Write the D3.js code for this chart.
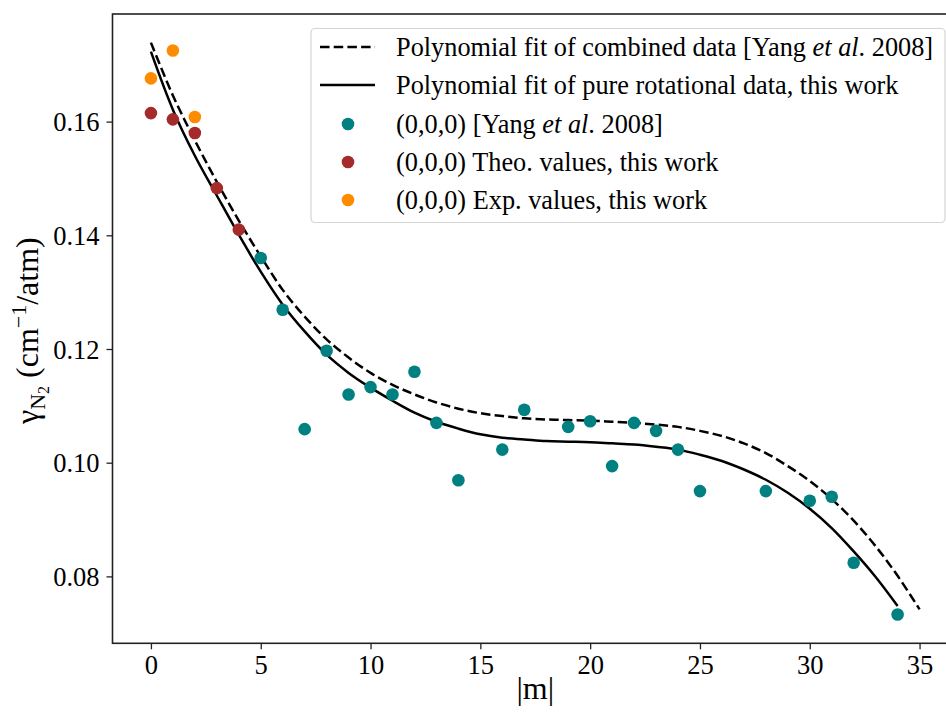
<!DOCTYPE html>
<html>
<head>
<meta charset="utf-8">
<script src="https://cdn.jsdelivr.net/npm/d3@7"></script>
<style>
  html, body { margin: 0; padding: 0; background: #fff; }
  svg { display: block; font-family: "Liberation Serif", "DejaVu Serif", serif; }
</style>
</head>
<body>
<svg id="chart" width="946" height="717"></svg>
<script>
// ---- Data ----
const expM = [0, 1, 2];
const expVals = [0.1676, 0.1725, 0.1608];

const theoM = [0, 1, 2, 3, 4];
const theoVals = [0.1615, 0.1604, 0.1580, 0.1483, 0.1410];

const yangM = [5, 6, 7, 8, 9, 10, 11, 12, 13, 14, 16, 17, 19, 20, 21, 22, 23, 24, 25, 28, 30, 31, 32, 34];
const yangVals = [0.1360, 0.1269, 0.1059, 0.1197, 0.1120, 0.1133, 0.1120, 0.1160, 0.1070, 0.0969,
                  0.1023, 0.1093, 0.1063, 0.1073, 0.0994, 0.1070, 0.1056, 0.1023, 0.0950, 0.0950,
                  0.0933, 0.0940, 0.0824, 0.0733];

// Polynomial fit curve of pure rotational data (this work), read at integer |m|
const fitPureM = [0,1,2,3,4,5,6,7,8,9,10,11,12,13,14,15,16,17,18,19,20,21,22,23,24,25,26,27,28,29,30,31,32,33,34];
const fitPureVals = [0.1723,0.1621,0.1540,0.1470,0.1401,0.1336,0.1278,0.1231,0.1190,0.1158,0.1132,0.1109,
                     0.1088,0.1072,0.1060,0.1050,0.1044,0.1041,0.1038,0.1037,0.1036,0.1034,0.1032,0.1028,
                     0.1023,0.1014,0.1003,0.0988,0.0970,0.0947,0.0919,0.0885,0.0844,0.0799,0.0748];

// Polynomial fit curve of combined data [Yang et al. 2008], read at integer |m|
const fitYangM = [0,1,2,3,4,5,6,7,8,9,10,11,12,13,14,15,16,17,18,19,20,21,22,23,24,25,26,27,28,29,30,31,32,33,34,35];
const fitYangVals = [0.1739,0.1646,0.1567,0.1494,0.1426,0.1363,0.1304,0.1257,0.1217,0.1185,0.1158,0.1137,
                     0.1120,0.1106,0.1095,0.1087,0.1082,0.1078,0.1076,0.1075,0.1074,0.1072,0.1070,0.1067,
                     0.1063,0.1056,0.1047,0.1034,0.1017,0.0994,0.0968,0.0936,0.0898,0.0853,0.0801,0.0742];

const xTicks = [0, 5, 10, 15, 20, 25, 30, 35];
const yTicks = [0.08, 0.10, 0.12, 0.14, 0.16];

const legendLabels = [
  ["Polynomial fit of combined data [Yang ", "et al", ". 2008]"],
  ["Polynomial fit of pure rotational data, this work"],
  ["(0,0,0) [Yang ", "et al", ". 2008]"],
  ["(0,0,0) Theo. values, this work"],
  ["(0,0,0) Exp. values, this work"]
];
const colors = { yang: "#008080", theo: "#a52a2a", exp: "#ff8c00" };

// ---- Chart ----
const svg = d3.select("#chart");
svg.append("rect").attr("width", 946).attr("height", 717).attr("fill", "#fff");

const L = 112.5, R = 958, T = 14, B = 643.3;
const x = d3.scaleLinear().domain([-1.75, 36.75]).range([L, R]);
const y = d3.scaleLinear().domain([0.06823, 0.17893]).range([B, T]);

const line = d3.line().x(d => x(d[0])).y(d => y(d[1])).curve(d3.curveCatmullRom.alpha(0.5));

const plot = svg.append("g");

plot.append("path")
  .datum(fitYangM.map((m, i) => [m, fitYangVals[i]]))
  .attr("d", line).attr("fill", "none").attr("stroke", "#000")
  .attr("stroke-width", 2.5).attr("stroke-dasharray", "9.5,4.2");

plot.append("path")
  .datum(fitPureM.map((m, i) => [m, fitPureVals[i]]))
  .attr("d", line).attr("fill", "none").attr("stroke", "#000")
  .attr("stroke-width", 2.5);

function scatter(ms, vals, color) {
  plot.append("g").selectAll("circle")
    .data(ms.map((m, i) => [m, vals[i]]))
    .join("circle")
    .attr("cx", d => x(d[0])).attr("cy", d => y(d[1]))
    .attr("r", 6.3).attr("fill", color);
}
scatter(yangM, yangVals, colors.yang);
scatter(theoM, theoVals, colors.theo);
scatter(expM, expVals, colors.exp);

// Axes
const fontSize = 26.5;
const xAxis = svg.append("g").attr("transform", `translate(0,${B})`)
  .call(d3.axisBottom(x).tickValues(xTicks).tickSize(6).tickPadding(6).tickFormat(d3.format("d")));
const yAxis = svg.append("g").attr("transform", `translate(${L},0)`)
  .call(d3.axisLeft(y).tickValues(yTicks).tickSize(6).tickPadding(7).tickFormat(d3.format(".2f")));
[xAxis, yAxis].forEach(a => {
  a.attr("font-family", "Liberation Serif, serif");
  a.select(".domain").remove();
  a.selectAll(".tick line").attr("stroke", "#222").attr("stroke-width", 1.3);
  a.selectAll(".tick text").attr("fill", "#000").attr("font-size", fontSize)
    .attr("font-family", "Liberation Serif, serif");
});
xAxis.selectAll(".tick text").attr("dy", "0.72em");
yAxis.selectAll(".tick text").attr("dy", "0.34em");

// Spines
svg.append("rect").attr("x", L).attr("y", T).attr("width", R - L).attr("height", B - T)
  .attr("fill", "none").attr("stroke", "#222").attr("stroke-width", 1.6);

// Axis labels
svg.append("text").attr("x", (L + R) / 2).attr("y", 699).attr("text-anchor", "middle")
  .attr("font-size", 32).text("|m|");

const yl = svg.append("text")
  .attr("transform", `translate(38,${(T + B) / 2 + 2}) rotate(-90)`)
  .attr("text-anchor", "middle").attr("font-size", 32);
yl.append("tspan").text("γ");
yl.append("tspan").attr("font-size", 22).attr("dy", 7).text("N");
yl.append("tspan").attr("font-size", 16).attr("dy", 4).text("2");
yl.append("tspan").attr("dy", -11).text(" (cm");
yl.append("tspan").attr("font-size", 22).attr("dy", -12).text("−1");
yl.append("tspan").attr("dy", 12).text("/atm)");

// Legend
const lg = svg.append("g");
lg.append("rect").attr("x", 311).attr("y", 28.5).attr("width", 634).attr("height", 194)
  .attr("rx", 4).attr("fill", "#fff").attr("fill-opacity", 0.8)
  .attr("stroke", "#d4d4d4").attr("stroke-width", 1.2);
const rowY = [47, 85, 124, 162, 200];
lg.append("line").attr("x1", 320).attr("x2", 375).attr("y1", rowY[0]).attr("y2", rowY[0])
  .attr("stroke", "#000").attr("stroke-width", 2.5).attr("stroke-dasharray", "9.5,4.2");
lg.append("line").attr("x1", 320).attr("x2", 375).attr("y1", rowY[1]).attr("y2", rowY[1])
  .attr("stroke", "#000").attr("stroke-width", 2.5);
[colors.yang, colors.theo, colors.exp].forEach((c, i) => {
  lg.append("circle").attr("cx", 348).attr("cy", rowY[i + 2]).attr("r", 6.3).attr("fill", c);
});
legendLabels.forEach((parts, i) => {
  const t = lg.append("text").attr("x", 396).attr("y", rowY[i] + 8.5).attr("font-size", 26.3);
  parts.forEach((p, j) => {
    const s = t.append("tspan").text(p);
    if (j === 1) s.attr("font-style", "italic");
  });
});
</script>
</body>
</html>
